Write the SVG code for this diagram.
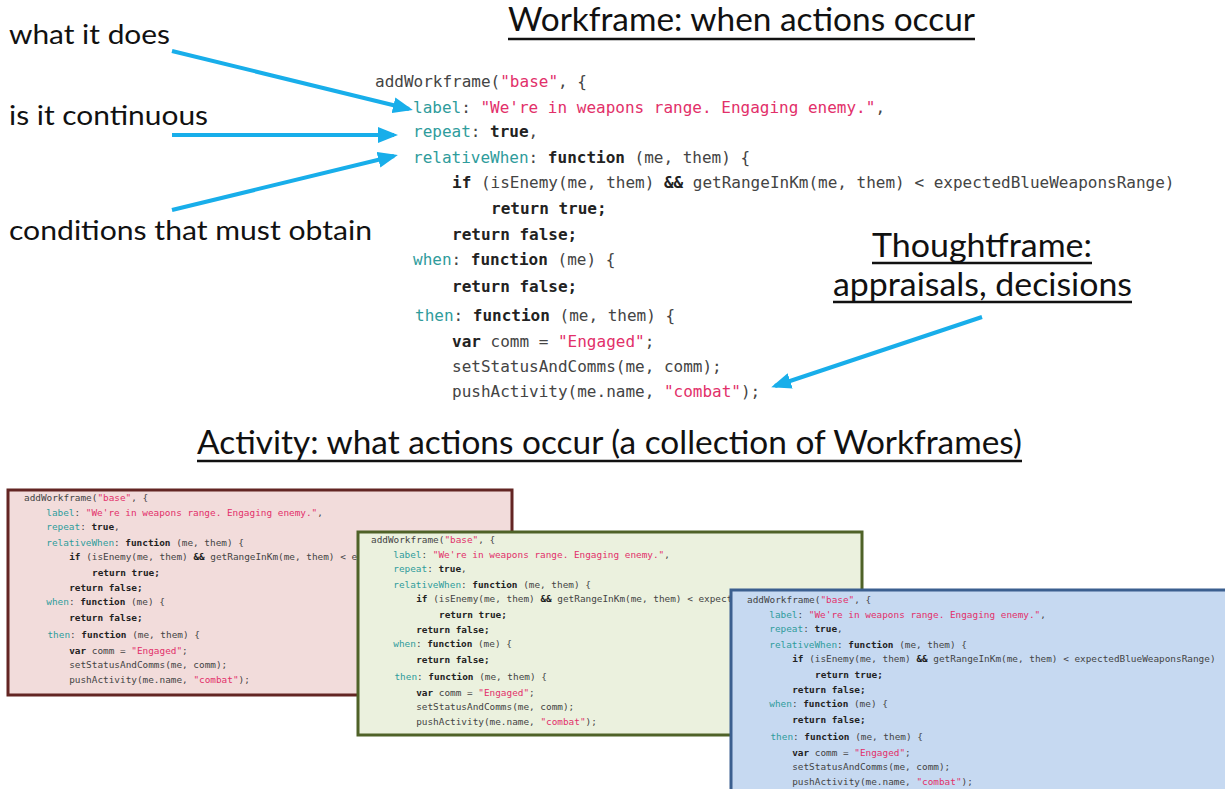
<svg xmlns="http://www.w3.org/2000/svg" xmlns:xlink="http://www.w3.org/1999/xlink" width="1225" height="789" viewBox="0 0 1225 789">
  <style>
    .hd { font-family: Lato, "Open Sans", "Liberation Sans", sans-serif; fill: #111; }
    .ul { stroke: #111; stroke-width: 2.5; }
    .code text { font-family: "DejaVu Sans Mono", "Liberation Mono", monospace; font-size: 16px; fill: #444; }
    .code .k { fill: #2f9c9c; }
    .code .s { fill: #e2306a; }
    .code .b { fill: #222; font-weight: bold; }
    .conn line { stroke: #18aeea; stroke-width: 4; marker-end: url(#head); }
  </style>
  <defs>
    <marker id="head" viewBox="0 0 20 16" markerWidth="20" markerHeight="16" markerUnits="userSpaceOnUse" refX="16" refY="8" orient="auto">
      <path d="M0,0 L20,8 L0,16 z" fill="#18aeea"/>
    </marker>
    <!-- workframe source listing, origin at the first baseline -->
    <g id="wf-code" class="code">
      <text x="0" y="0">addWorkframe(<tspan class="s">"base"</tspan>, {</text>
      <text x="38" y="26"><tspan class="k">label</tspan>: <tspan class="s">"We're in weapons range. Engaging enemy."</tspan>,</text>
      <text x="38" y="50"><tspan class="k">repeat</tspan>: <tspan class="b">true</tspan>,</text>
      <text x="38" y="76"><tspan class="k">relativeWhen</tspan>: <tspan class="b">function</tspan> (me, them) {</text>
      <text x="77" y="101"><tspan class="b">if</tspan> (isEnemy(me, them) <tspan class="b">&amp;&amp;</tspan> getRangeInKm(me, them) &lt; expectedBlueWeaponsRange)</text>
      <text x="116" y="127"><tspan class="b">return true;</tspan></text>
      <text x="77" y="153"><tspan class="b">return false;</tspan></text>
      <text x="38" y="178"><tspan class="k">when</tspan>: <tspan class="b">function</tspan> (me) {</text>
      <text x="77" y="205"><tspan class="b">return false;</tspan></text>
      <text x="40" y="234"><tspan class="k">then</tspan>: <tspan class="b">function</tspan> (me, them) {</text>
      <text x="77" y="260"><tspan class="b">var</tspan> comm = <tspan class="s">"Engaged"</tspan>;</text>
      <text x="77" y="285">setStatusAndComms(me, comm);</text>
      <text x="77" y="310">pushActivity(me.name, <tspan class="s">"combat"</tspan>);</text>
    </g>
  </defs>

  <rect width="1225" height="789" fill="#fff"/>

  <!-- headings -->
  <g id="title-workframe">
    <text class="hd" x="508" y="31" font-size="32" textLength="467" lengthAdjust="spacingAndGlyphs">Workframe: when actions occur</text>
    <line class="ul" x1="508" y1="39" x2="975" y2="39"/>
  </g>
  <g id="title-thoughtframe">
    <text class="hd" x="872" y="257" font-size="32" textLength="220" lengthAdjust="spacingAndGlyphs">Thoughtframe:</text>
    <line class="ul" x1="872" y1="263" x2="1092" y2="263"/>
    <text class="hd" x="833" y="296" font-size="32" textLength="299" lengthAdjust="spacingAndGlyphs">appraisals, decisions</text>
    <line class="ul" x1="833" y1="302" x2="1132" y2="302"/>
  </g>
  <g id="title-activity">
    <text class="hd" x="197" y="454" font-size="32" textLength="825" lengthAdjust="spacingAndGlyphs">Activity: what actions occur (a collection of Workframes)</text>
    <line class="ul" x1="197" y1="461" x2="1022" y2="461"/>
  </g>

  <!-- field annotations -->
  <g id="note-does"><text class="hd" x="9" y="44" font-size="27" textLength="161" lengthAdjust="spacingAndGlyphs">what it does</text></g>
  <g id="note-continuous"><text class="hd" x="9" y="125" font-size="27" textLength="199" lengthAdjust="spacingAndGlyphs">is it continuous</text></g>
  <g id="note-conditions"><text class="hd" x="9" y="240" font-size="27" textLength="363" lengthAdjust="spacingAndGlyphs">conditions that must obtain</text></g>

  <!-- main workframe listing -->
  <g id="workframe-main">
    <use xlink:href="#wf-code" transform="translate(375,87)"/>
  </g>

  <!-- activity: stacked workframe cards -->
  <g id="activity-frame-1">
    <rect x="8" y="490" width="504" height="205" fill="#f2dcdb" stroke="#632523" stroke-width="3"/>
    <use xlink:href="#wf-code" transform="translate(24,501) scale(0.587)"/>
  </g>
  <g id="activity-frame-2">
    <rect x="358" y="532" width="504" height="203" fill="#ebf1de" stroke="#4f6228" stroke-width="3"/>
    <use xlink:href="#wf-code" transform="translate(371,543) scale(0.587)"/>
  </g>
  <g id="activity-frame-3">
    <rect x="731" y="590" width="510" height="220" fill="#c6d9f1" stroke="#3b5f8f" stroke-width="3"/>
    <use xlink:href="#wf-code" transform="translate(747,603) scale(0.587)"/>
  </g>

  <!-- connectors -->
  <g id="connectors" class="conn">
    <line x1="172" y1="51" x2="409" y2="109"/>
    <line x1="172" y1="135" x2="394" y2="135"/>
    <line x1="172" y1="210" x2="394" y2="156"/>
    <line x1="982" y1="317" x2="775" y2="386"/>
  </g>
</svg>
